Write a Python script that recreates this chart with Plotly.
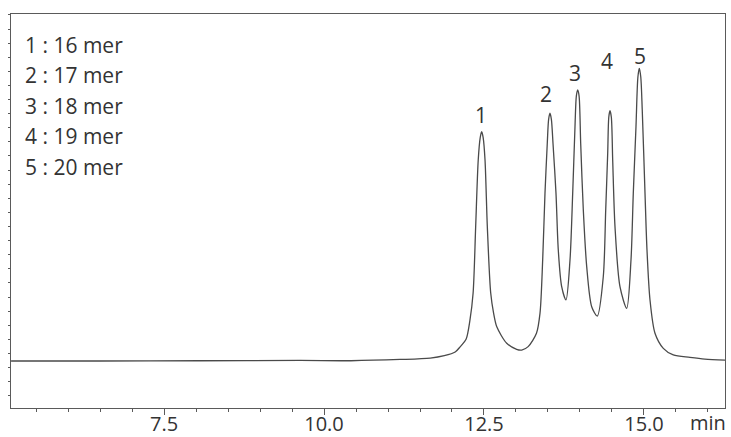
import plotly.graph_objects as go

# Chromatogram trace: retention time (min) and detector signal (arbitrary units)
time_min = [
    5.11, 6.50, 8.06, 9.63, 10.42, 11.19, 11.66, 11.88, 12.05, 12.13, 12.22,
    12.28, 12.33, 12.37, 12.41, 12.441, 12.464, 12.487, 12.516, 12.552,
    12.605, 12.65, 12.70, 12.855, 13.01, 13.09, 13.19, 13.32, 13.375, 13.417,
    13.453, 13.489, 13.51, 13.531, 13.553, 13.578, 13.625, 13.661, 13.714,
    13.781, 13.844, 13.886, 13.922, 13.943, 13.964, 13.986, 14.011, 14.052,
    14.105, 14.183, 14.27, 14.364, 14.402, 14.433, 14.45, 14.469, 14.49,
    14.511, 14.547, 14.625, 14.73, 14.797, 14.833, 14.875, 14.905, 14.927,
    14.95, 14.973, 15.016, 15.047, 15.094, 15.172, 15.302, 15.458, 15.719,
    15.95, 16.266,
]
signal = [
    24.6, 24.6, 24.8, 25.0, 24.8, 25.7, 26.7, 28.4, 31.0, 34.8, 40.0,
    53.4, 72.8, 119.9, 167.2, 183.0, 187.2, 183.0, 167.2, 119.9,
    72.8, 58.6, 48.9, 37.2, 32.9, 32.4, 34.8, 44.3, 58.4, 96.2,
    143.5, 179.0, 196.0, 200.3, 196.0, 179.2, 143.5, 103.3, 77.3,
    67.9, 96.2, 143.5, 190.8, 212.5, 216.8, 212.5, 179.0, 131.7,
    91.5, 63.1, 56.5, 84.4, 131.7, 171.9, 197.5, 202.1, 197.5,
    167.2, 119.9, 77.3, 62.0, 96.2, 143.5, 190.8, 226.0, 232.2,
    226.0, 202.6, 143.5, 103.3, 67.9, 44.3, 33.6, 28.9, 27.2,
    26.0, 25.3,
]

# Peak identification
peak_ids = ["1", "2", "3", "4", "5"]
peak_names = ["16 mer", "17 mer", "18 mer", "19 mer", "20 mer"]
label_time = [12.45, 13.47, 13.92, 14.42, 14.94]
label_level = [199.4, 214.0, 229.2, 237.4, 241.0]

x_ticks = [7.5, 10.0, 12.5, 15.0]
x_tick_text = ["7.5", "10.0", "12.5", "15.0"]

TEXT = "#333333"
AXIS = "#5a5a5a"
FONT = "Open Sans"

fig = go.Figure()
fig.add_trace(go.Scatter(
    x=time_min, y=signal, mode="lines",
    line=dict(color="#4a4a4a", width=1.3, shape="spline", smoothing=0.8),
    hoverinfo="skip", showlegend=False,
))

for pid, t, lvl in zip(peak_ids, label_time, label_level):
    fig.add_annotation(x=t, y=lvl, text=pid, showarrow=False,
                       xanchor="center", yanchor="middle",
                       font=dict(family=FONT, size=21, color=TEXT))

for i, (pid, name) in enumerate(zip(peak_ids, peak_names)):
    fig.add_annotation(xref="paper", yref="paper", x=0.0164,
                       y=(408 - (44.5 + 30.6 * i)) / 394,
                       text=f"{pid} : {name}", showarrow=False,
                       xanchor="left", yanchor="middle",
                       font=dict(family=FONT, size=21, color=TEXT))

fig.add_annotation(xref="paper", yref="paper", x=1.003, y=-0.038,
                   text="min", showarrow=False, xanchor="right", yanchor="middle",
                   borderpad=0,
                   font=dict(family=FONT, size=20, color=TEXT))

fig.update_layout(
    width=731, height=437,
    margin=dict(l=11, r=6, t=14, b=29),
    paper_bgcolor="white", plot_bgcolor="white",
    font=dict(family=FONT, color=TEXT),
)
fig.update_xaxes(
    range=[5.109, 16.266], showgrid=False, zeroline=False, automargin=False,
    showline=True, linecolor=AXIS, linewidth=1.4, mirror=True,
    tickmode="array", tickvals=x_ticks, ticktext=x_tick_text,
    ticks="outside", ticklen=6, tickwidth=1.2, tickcolor=AXIS,
    ticklabelstandoff=-8,
    tickfont=dict(family=FONT, size=20, color=TEXT),
    minor=dict(dtick=0.5, tick0=0, ticks="outside", ticklen=3,
               tickwidth=1.2, tickcolor=AXIS, showgrid=False),
)
fig.update_yaxes(
    range=[-8.72, 270.7], showgrid=False, zeroline=False, automargin=False,
    showline=True, linecolor=AXIS, linewidth=1.4, mirror=True,
    tickmode="linear", tick0=0, dtick=10, showticklabels=False,
    ticks="outside", ticklen=2, tickwidth=1.2, tickcolor=AXIS,
)

fig.write_html("out.html")
